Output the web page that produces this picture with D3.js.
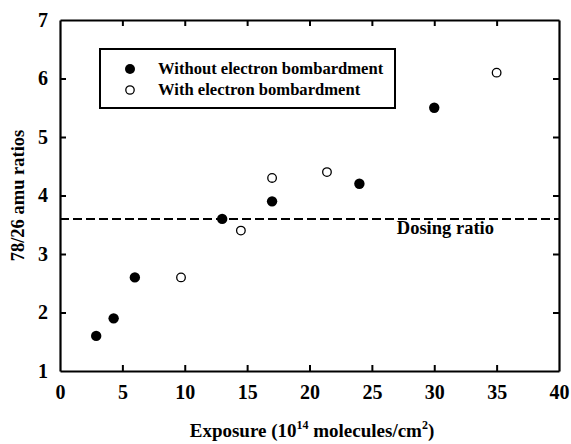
<!DOCTYPE html>
<html>
<head>
<meta charset="utf-8">
<script src="https://cdn.jsdelivr.net/npm/d3@7"></script>
<style>
  html, body { margin: 0; padding: 0; background: #fff; }
</style>
</head>
<body>
<svg id="chart" width="571" height="444"></svg>
<script>
// Exposure (10^14 molecules/cm^2) and 78/26 amu ratio, without electron bombardment
const withoutExposure = [2.9, 4.3, 6.0, 13.0, 17.0, 24.0, 30.0];
const withoutRatio    = [1.6, 1.9, 2.6, 3.6, 3.9, 4.2, 5.5];
// ... and with electron bombardment
const withExposure = [9.7, 14.5, 17.0, 21.4, 35.0];
const withRatio    = [2.6, 3.4, 4.3, 4.4, 6.1];

const dosingRatio = 3.6;
const xTicks = [0, 5, 10, 15, 20, 25, 30, 35, 40];
const yTicks = [1, 2, 3, 4, 5, 6, 7];
const legendLabels = ["Without electron bombardment", "With electron bombardment"];

const FONT = "Liberation Serif";

const svg = d3.select("#chart");

function serif(sel, size) {
  return sel.style("font-family", FONT).style("font-weight", "bold")
    .style("font-size", size + "px").style("fill", "#000");
}

const margin = { left: 60, right: 12, top: 20, bottom: 73 };
const W = 571, H = 444;

const x = d3.scaleLinear().domain([0, 40]).range([margin.left, W - margin.right]);
const y = d3.scaleLinear().domain([1, 7]).range([H - margin.bottom, margin.top]);

const x0 = x.range()[0], x1 = x.range()[1];
const y0 = y.range()[0], y1 = y.range()[1];

// Axes: inward ticks on all four sides
const tickLen = 6;
const fmt = d3.format("d");
const bottomAxis = d3.axisBottom(x).tickValues(xTicks).tickFormat(fmt).tickSizeInner(-tickLen).tickSizeOuter(0).tickPadding(14);
const leftAxis = d3.axisLeft(y).tickValues(yTicks).tickFormat(fmt).tickSizeInner(-tickLen).tickSizeOuter(0).tickPadding(12);
const topAxis = d3.axisTop(x).tickValues(xTicks).tickSizeInner(-tickLen).tickSizeOuter(0).tickFormat("");
const rightAxis = d3.axisRight(y).tickValues(yTicks).tickSizeInner(-tickLen).tickSizeOuter(0).tickFormat("");

function styleAxis(g) {
  g.select(".domain").attr("stroke", "#000").attr("stroke-width", 2.2);
  g.selectAll(".tick line").attr("stroke", "#000").attr("stroke-width", 2);
  serif(g.selectAll(".tick text"), 20);
}

svg.append("g").attr("transform", `translate(0,${y0})`).call(bottomAxis).call(styleAxis);
svg.append("g").attr("transform", `translate(${x0},0)`).call(leftAxis).call(styleAxis);
svg.append("g").attr("transform", `translate(0,${y1})`).call(topAxis).call(styleAxis);
svg.append("g").attr("transform", `translate(${x1},0)`).call(rightAxis).call(styleAxis);

// Remove end ticks that would sit on the frame corners
svg.selectAll(".tick").filter(d => d === 0 || d === 40 || d === 1 || d === 7).select("line").remove();

// Dosing ratio reference line
svg.append("line")
  .attr("x1", x0).attr("x2", x1)
  .attr("y1", y(dosingRatio)).attr("y2", y(dosingRatio))
  .attr("stroke", "#000").attr("stroke-width", 2)
  .attr("stroke-dasharray", "9,4");

serif(svg.append("text"), 18.5)
  .attr("x", x(27.0)).attr("y", y(dosingRatio) + 15)
  .text("Dosing ratio");

// Data points
const withoutData = withoutExposure.map((e, i) => ({ e, r: withoutRatio[i] }));
const withData = withExposure.map((e, i) => ({ e, r: withRatio[i] }));

svg.append("g").selectAll("circle").data(withoutData).join("circle")
  .attr("cx", d => x(d.e)).attr("cy", d => y(d.r)).attr("r", 5.2)
  .attr("fill", "#000");

svg.append("g").selectAll("circle").data(withData).join("circle")
  .attr("cx", d => x(d.e)).attr("cy", d => y(d.r)).attr("r", 4.3)
  .attr("fill", "#fff").attr("stroke", "#000").attr("stroke-width", 1.3);

// Legend
const legend = svg.append("g");
legend.append("rect")
  .attr("x", 100).attr("y", 49).attr("width", 295).attr("height", 59)
  .attr("fill", "#fff").attr("stroke", "#000").attr("stroke-width", 2);

legendLabels.forEach((label, i) => {
  const cy = 69 + i * 21;
  legend.append("circle")
    .attr("cx", 130).attr("cy", cy)
    .attr("r", i === 0 ? 5 : 4.2)
    .attr("fill", i === 0 ? "#000" : "#fff")
    .attr("stroke", "#000").attr("stroke-width", i === 0 ? 0 : 1.3);
  serif(legend.append("text"), 16.6)
    .attr("x", 158).attr("y", cy + 5)
    .text(label);
});

// Axis titles
const xTitle = serif(svg.append("text"), 19)
  .attr("x", 312).attr("y", 437)
  .attr("text-anchor", "middle");
xTitle.append("tspan").text("Exposure (10");
xTitle.append("tspan").attr("dy", -8).style("font-size", "12px").text("14");
xTitle.append("tspan").attr("dy", 8).text(" molecules/cm");
xTitle.append("tspan").attr("dy", -8).style("font-size", "12px").text("2");
xTitle.append("tspan").attr("dy", 8).text(")");

serif(svg.append("text"), 18.5)
  .attr("transform", `translate(24,${(y0 + y1) / 2}) rotate(-90)`)
  .attr("text-anchor", "middle")
  .text("78/26 amu ratios");
</script>
</body>
</html>
